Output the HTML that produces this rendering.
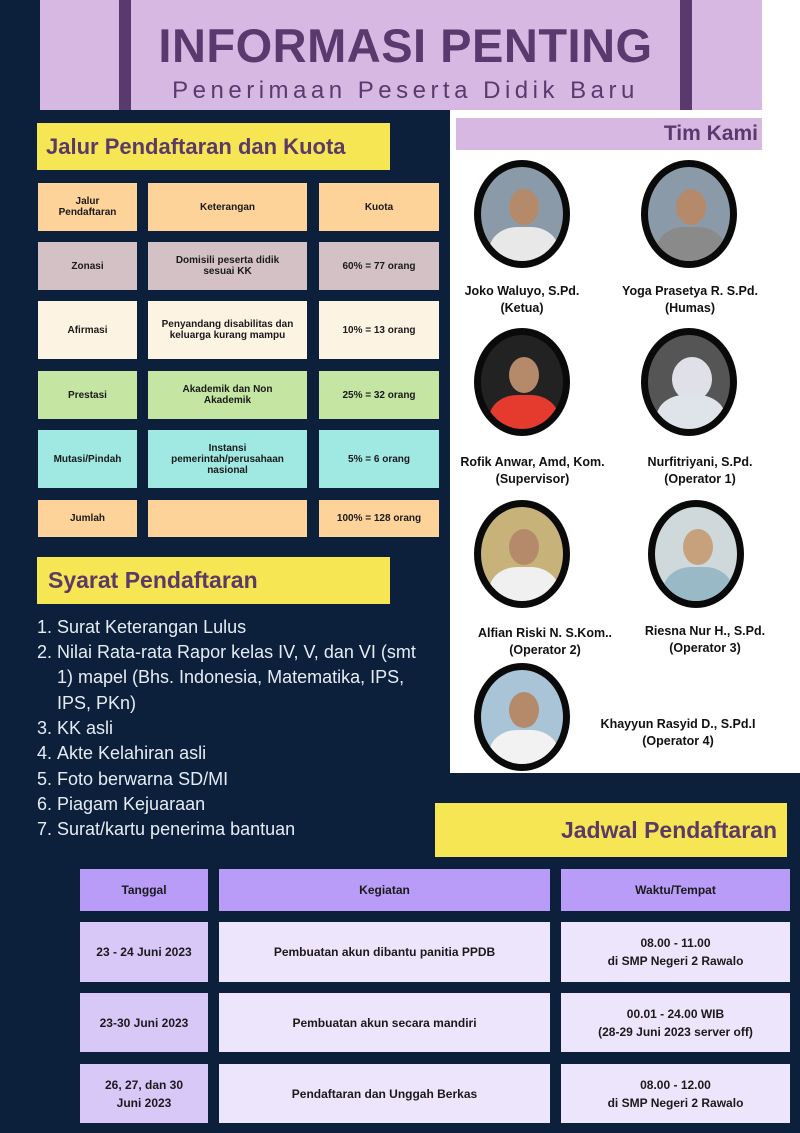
<!DOCTYPE html>
<html><head><meta charset="utf-8"><style>
*{margin:0;padding:0;box-sizing:border-box}
body{width:800px;height:1133px;background:#0c1f3b;position:relative;overflow:hidden;font-family:"Liberation Sans","DejaVu Sans",sans-serif}
.a{position:absolute}
.c{position:absolute;display:flex;align-items:center;justify-content:center;text-align:center;font-weight:bold;font-size:10px;line-height:11px;color:#1a1a1a}
.s{position:absolute;display:flex;align-items:center;justify-content:center;text-align:center;font-weight:bold;font-size:12px;line-height:18px;color:#1a1a1a;font-family:"Liberation Sans Narrow","Liberation Sans",sans-serif}
.y{position:absolute;background:#f7e654;color:#5b3a68;font-weight:bold;font-size:23px;display:flex;align-items:center}
.ph{position:absolute;width:96px;height:108px;border-radius:50%;border:7px solid #0a0a0a;overflow:hidden;background:#8a9aa8}
.ph .h{position:absolute;left:28px;top:22px;width:30px;height:36px;border-radius:50%;background:#b58a6a}
.ph .b{position:absolute;left:8px;top:60px;width:70px;height:60px;border-radius:40% 40% 0 0;background:#e8e8e8}
.n{position:absolute;text-align:center;font-weight:bold;font-size:12.5px;line-height:17px;color:#111}
.li{position:absolute;left:37px;color:#e6ecf3;font-size:18px;line-height:25.3px}
</style></head><body>
<div class="a" style="left:762px;top:0;width:38px;height:110px;background:#fff"></div>
<div class="a" style="left:40px;top:0;width:722px;height:110px;background:#d7b8e2"></div>
<div class="a" style="left:119px;top:0;width:12px;height:110px;background:#5a3a6e"></div>
<div class="a" style="left:680px;top:0;width:12px;height:110px;background:#5a3a6e"></div>
<div class="a" style="left:131px;top:18px;width:549px;text-align:center;font-size:47px;font-weight:bold;color:#5a3a6e;line-height:56px;letter-spacing:0.5px">INFORMASI PENTING</div>
<div class="a" style="left:131px;top:76px;width:549px;text-align:center;font-size:24px;color:#5a3a6e;letter-spacing:4.5px;line-height:30px">Penerimaan Peserta Didik Baru</div>

<div class="a" style="left:450px;top:110px;width:350px;height:663px;background:#fff"></div>
<div class="a" style="left:456px;top:118px;width:306px;height:32px;background:#d7b8e2;color:#5a3a6e;font-weight:bold;font-size:21px;text-align:right;padding-right:4px;line-height:32px">Tim Kami</div>

<div class="y" style="left:37px;top:123px;width:353px;height:47px;padding-left:9px;font-size:22px">Jalur Pendaftaran dan Kuota</div>

<div class="c" style="left:38px;top:183px;width:99px;height:48px;background:#fdd39a">Jalur<br>Pendaftaran</div>
<div class="c" style="left:148px;top:183px;width:159px;height:48px;background:#fdd39a">Keterangan</div>
<div class="c" style="left:319px;top:183px;width:120px;height:48px;background:#fdd39a">Kuota</div>
<div class="c" style="left:38px;top:242px;width:99px;height:48px;background:#d4c1c6">Zonasi</div>
<div class="c" style="left:148px;top:242px;width:159px;height:48px;background:#d4c1c6">Domisili peserta didik<br>sesuai KK</div>
<div class="c" style="left:319px;top:242px;width:120px;height:48px;background:#d4c1c6">60% = 77 orang</div>
<div class="c" style="left:38px;top:301px;width:99px;height:58px;background:#fdf3e3">Afirmasi</div>
<div class="c" style="left:148px;top:301px;width:159px;height:58px;background:#fdf3e3">Penyandang disabilitas dan<br>keluarga kurang mampu</div>
<div class="c" style="left:319px;top:301px;width:120px;height:58px;background:#fdf3e3">10% = 13 orang</div>
<div class="c" style="left:38px;top:371px;width:99px;height:48px;background:#c5e5a2">Prestasi</div>
<div class="c" style="left:148px;top:371px;width:159px;height:48px;background:#c5e5a2">Akademik dan Non<br>Akademik</div>
<div class="c" style="left:319px;top:371px;width:120px;height:48px;background:#c5e5a2">25% = 32 orang</div>
<div class="c" style="left:38px;top:430px;width:99px;height:58px;background:#a0e8e2">Mutasi/Pindah</div>
<div class="c" style="left:148px;top:430px;width:159px;height:58px;background:#a0e8e2">Instansi<br>pemerintah/perusahaan<br>nasional</div>
<div class="c" style="left:319px;top:430px;width:120px;height:58px;background:#a0e8e2">5% = 6 orang</div>
<div class="c" style="left:38px;top:500px;width:99px;height:37px;background:#fdd39a">Jumlah</div>
<div class="c" style="left:148px;top:500px;width:159px;height:37px;background:#fdd39a"></div>
<div class="c" style="left:319px;top:500px;width:120px;height:37px;background:#fdd39a">100% = 128 orang</div>

<div class="y" style="left:37px;top:557px;width:353px;height:47px;padding-left:11px">Syarat Pendaftaran</div>
<div class="li" style="top:615px">1.&nbsp;Surat Keterangan Lulus</div>
<div class="li" style="top:640px">2.&nbsp;Nilai Rata-rata Rapor kelas IV, V, dan VI (smt<br>&nbsp;&nbsp;&nbsp;&nbsp;1) mapel (Bhs. Indonesia, Matematika, IPS,<br>&nbsp;&nbsp;&nbsp;&nbsp;IPS, PKn)</div>
<div class="li" style="top:716px">3.&nbsp;KK asli</div>
<div class="li" style="top:741px">4.&nbsp;Akte Kelahiran asli</div>
<div class="li" style="top:767px">5.&nbsp;Foto berwarna SD/MI</div>
<div class="li" style="top:792px">6.&nbsp;Piagam Kejuaraan</div>
<div class="li" style="top:817px">7.&nbsp;Surat/kartu penerima bantuan</div>

<div class="ph" style="left:474px;top:160px"><div class="h"></div><div class="b"></div></div>
<div class="ph" style="left:641px;top:160px"><div class="h"></div><div class="b" style="background:#8a8a8a"></div></div>
<div class="ph" style="left:474px;top:328px;background:#222"><div class="h"></div><div class="b" style="background:#e53a2e"></div></div>
<div class="ph" style="left:641px;top:328px;background:#555"><div class="h" style="background:#e0e0e8;width:40px;left:24px;height:44px"></div><div class="b" style="background:#dfe4ea"></div></div>
<div class="ph" style="left:474px;top:500px;background:#c7b27a"><div class="h"></div><div class="b" style="background:#f0f0f0"></div></div>
<div class="ph" style="left:648px;top:500px;background:#cfd8da"><div class="h" style="background:#c7a07c"></div><div class="b" style="background:#9ab9c6"></div></div>
<div class="ph" style="left:474px;top:663px;background:#a9c4d6"><div class="h"></div><div class="b" style="background:#f2f2f2"></div></div>

<div class="n" style="left:462px;top:283px;width:120px">Joko Waluyo, S.Pd.<br>(Ketua)</div>
<div class="n" style="left:620px;top:283px;width:140px">Yoga Prasetya R. S.Pd.<br>(Humas)</div>
<div class="n" style="left:450px;top:454px;width:165px">Rofik Anwar, Amd, Kom.<br>(Supervisor)</div>
<div class="n" style="left:630px;top:454px;width:140px">Nurfitriyani, S.Pd.<br>(Operator 1)</div>
<div class="n" style="left:465px;top:625px;width:160px">Alfian Riski N. S.Kom..<br>(Operator 2)</div>
<div class="n" style="left:630px;top:623px;width:150px">Riesna Nur H., S.Pd.<br>(Operator 3)</div>
<div class="n" style="left:598px;top:716px;width:160px">Khayyun Rasyid D., S.Pd.I<br>(Operator 4)</div>

<div class="y" style="left:435px;top:803px;width:352px;height:54px;justify-content:flex-end;padding-right:10px;font-size:23px">Jadwal Pendaftaran</div>

<div class="s" style="left:80px;top:869px;width:128px;height:42px;background:#b89cf8">Tanggal</div>
<div class="s" style="left:219px;top:869px;width:331px;height:42px;background:#b89cf8">Kegiatan</div>
<div class="s" style="left:561px;top:869px;width:229px;height:42px;background:#b89cf8">Waktu/Tempat</div>
<div class="s" style="left:80px;top:922px;width:128px;height:60px;background:#d8c8f8">23 - 24 Juni 2023</div>
<div class="s" style="left:219px;top:922px;width:331px;height:60px;background:#ece5fb">Pembuatan akun dibantu panitia PPDB</div>
<div class="s" style="left:561px;top:922px;width:229px;height:60px;background:#ece5fb">08.00 - 11.00<br>di SMP Negeri 2 Rawalo</div>
<div class="s" style="left:80px;top:993px;width:128px;height:59px;background:#d8c8f8">23-30 Juni 2023</div>
<div class="s" style="left:219px;top:993px;width:331px;height:59px;background:#ece5fb">Pembuatan akun secara mandiri</div>
<div class="s" style="left:561px;top:993px;width:229px;height:59px;background:#ece5fb">00.01 - 24.00 WIB<br>(28-29 Juni 2023 server off)</div>
<div class="s" style="left:80px;top:1064px;width:128px;height:59px;background:#d8c8f8">26, 27, dan 30<br>Juni 2023</div>
<div class="s" style="left:219px;top:1064px;width:331px;height:59px;background:#ece5fb">Pendaftaran dan Unggah Berkas</div>
<div class="s" style="left:561px;top:1064px;width:229px;height:59px;background:#ece5fb">08.00 - 12.00<br>di SMP Negeri 2 Rawalo</div>
</body></html>
